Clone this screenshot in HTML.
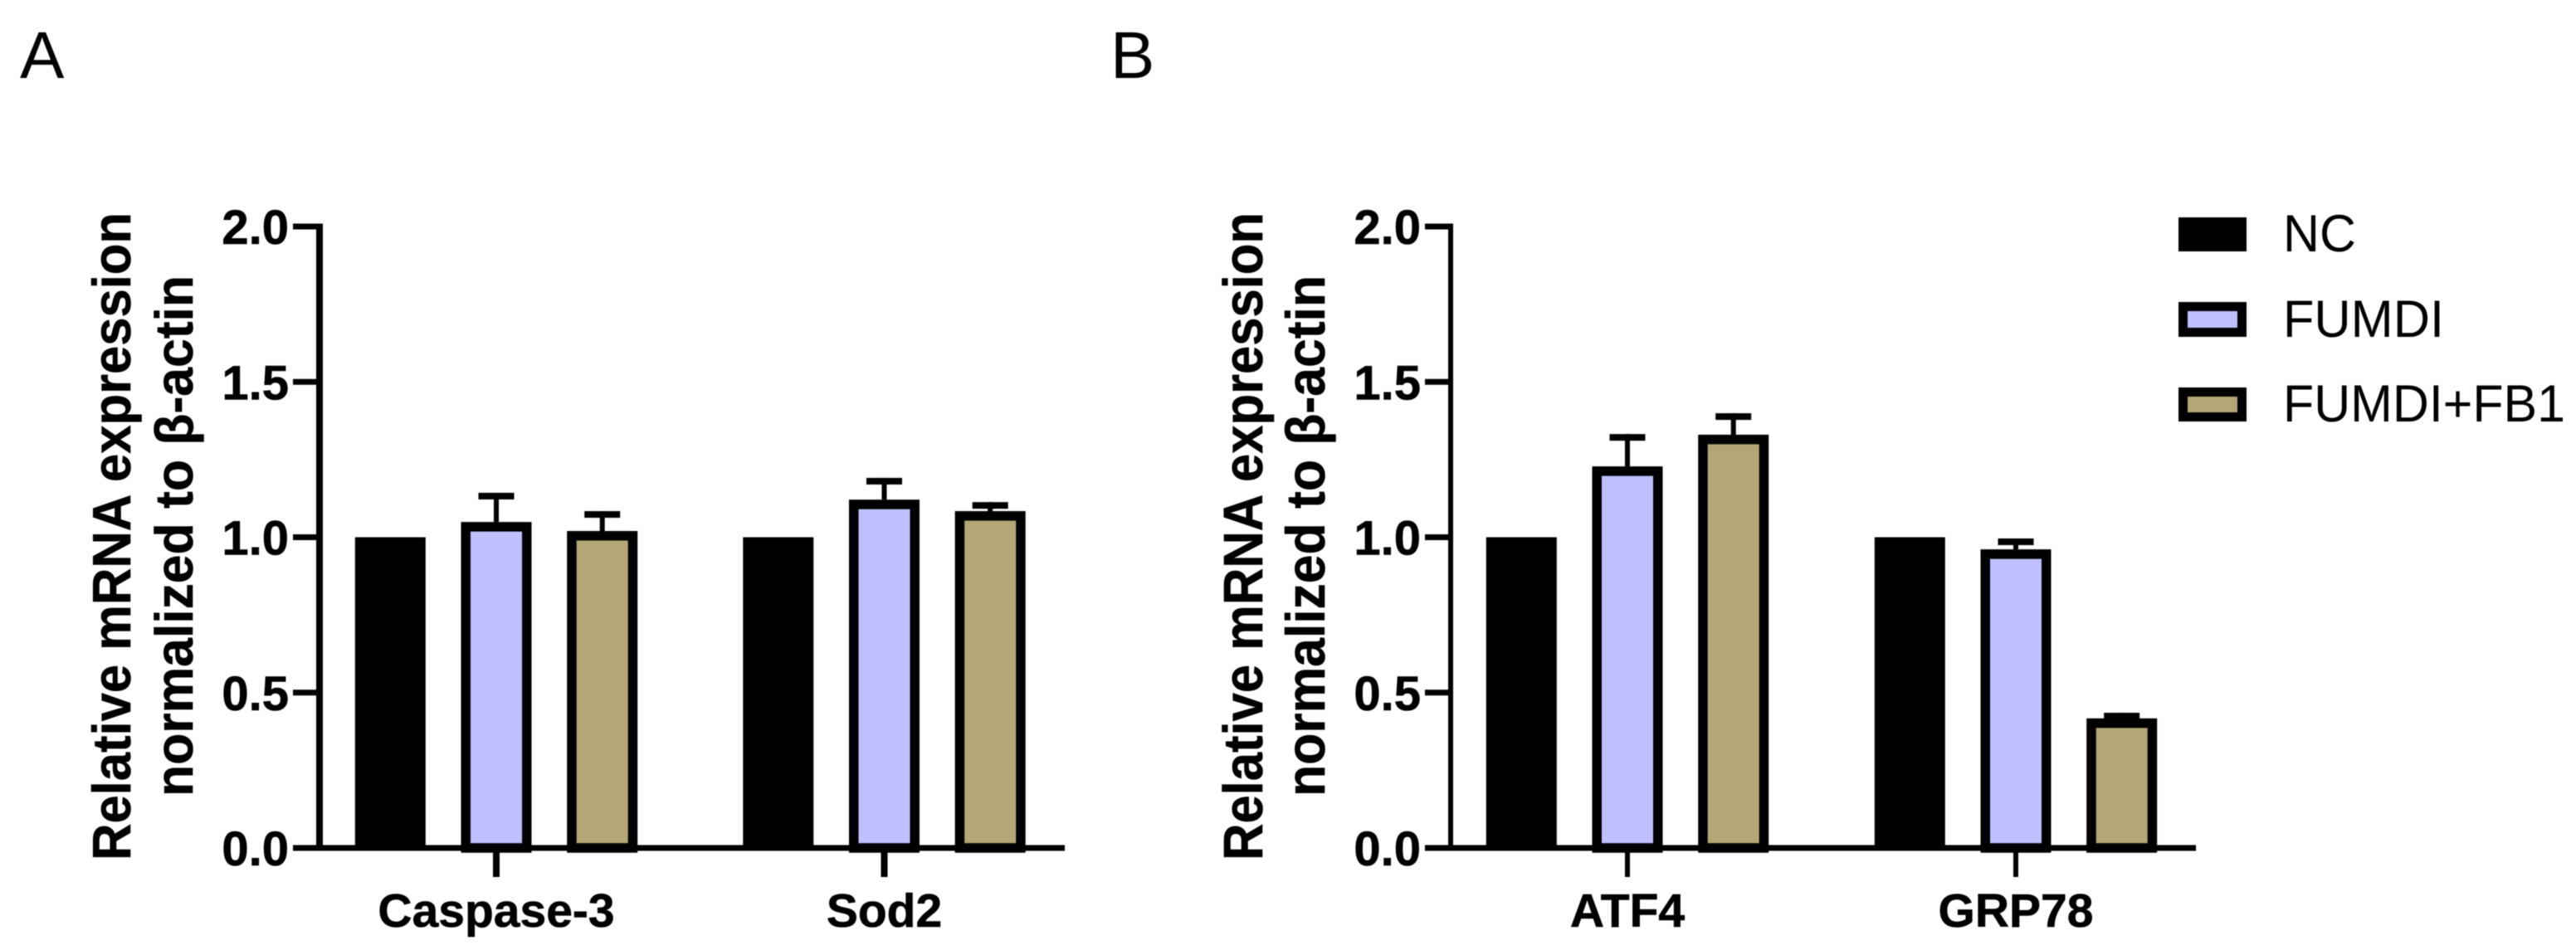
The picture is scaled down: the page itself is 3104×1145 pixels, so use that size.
<!DOCTYPE html>
<html lang="en">
<head>
<meta charset="utf-8">
<title>Relative mRNA expression bar charts</title>
<style>
  html, body { margin: 0; padding: 0; background: #fff; width: 3104px; height: 1145px; overflow: hidden; }
  svg { display: block; filter: blur(0.6px); }
  text { font-family: "Liberation Sans", sans-serif; fill: #000; }
  .bold { font-weight: 700; stroke: #000; stroke-width: 0.6px; }
</style>
</head>
<body>
<svg id="figure" xmlns="http://www.w3.org/2000/svg" width="3104" height="1145" viewBox="0 0 3104 1145">
  <rect x="0" y="0" width="3104" height="1145" fill="#ffffff"/>
  <text x="24" y="94" font-size="80">A</text>
  <text x="1338" y="94" font-size="80">B</text>

  <g>
    <text class="bold" transform="translate(157 1037) rotate(-90)" font-size="65" textLength="781" lengthAdjust="spacingAndGlyphs">Relative mRNA expression</text>
    <text class="bold" transform="translate(232 960) rotate(-90)" font-size="64" textLength="628" lengthAdjust="spacingAndGlyphs">normalized to β-actin</text>
  </g>
  <g>
    <text class="bold" transform="translate(1521 1037) rotate(-90)" font-size="67" textLength="781" lengthAdjust="spacingAndGlyphs">Relative mRNA expression</text>
    <text class="bold" transform="translate(1596 960) rotate(-90)" font-size="66" textLength="628" lengthAdjust="spacingAndGlyphs">normalized to β-actin</text>
  </g>

  <g id="panel-a"></g>
  <g id="panel-b"></g>

  <g>
    <g>
      <rect x="2625" y="262" width="82" height="41" fill="#000"/>
      <text x="2751" y="303" font-size="63" textLength="88" lengthAdjust="spacingAndGlyphs">NC</text>
    </g>
    <g>
      <rect x="2630.5" y="369.5" width="71" height="31" fill="#C0C0FF" stroke="#000" stroke-width="11"/>
      <text x="2751" y="406" font-size="63" textLength="194" lengthAdjust="spacingAndGlyphs">FUMDI</text>
    </g>
    <g>
      <rect x="2630.5" y="472.5" width="71" height="30" fill="#B3A775" stroke="#000" stroke-width="11"/>
      <text x="2751" y="508" font-size="63" textLength="340" lengthAdjust="spacingAndGlyphs">FUMDI+FB1</text>
    </g>
  </g>
</svg>

<script>
// Tick labels shared by both panels
const yTicks = [0, 0.5, 1.0, 1.5, 2.0];

// Panel A data
const categoriesA = ["Caspase-3", "Sod2"];
const ncA = [1.0, 1.0];
const fumdiA = [1.049, 1.121];
const fb1A = [1.02, 1.084];
const fumdiErrA = [0.094, 0.07];
const fb1ErrA = [0.064, 0.029];

// Panel B data
const categoriesB = ["ATF4", "GRP78"];
const ncB = [1.0, 1.0];
const fumdiB = [1.228, 0.961];
const fb1B = [1.33, 0.417];
const fumdiErrB = [0.104, 0.035];
const fb1ErrB = [0.069, 0.018];

const NS = "http://www.w3.org/2000/svg";
const Y_ZERO = 1022, Y_TOP = 273, Y_MAX = 2.0;
const BAR_W = 85, BAR_STEP = 127.7, STROKE = 11.5;

function yScale(v) { return Y_ZERO - (v / Y_MAX) * (Y_ZERO - Y_TOP); }

function make(parent, tag, attrs, text) {
  const el = document.createElementNS(NS, tag);
  for (const k in attrs) el.setAttribute(k, attrs[k]);
  if (text !== undefined) el.textContent = text;
  parent.appendChild(el);
  return el;
}

function drawPanel(root, cfg) {
  const xGroup = function (i) { return cfg.groupFirst + i * cfg.groupGap; };
  const xBar = function (i, s) { return xGroup(i) + (s - 1) * BAR_STEP; };

  // bars and error bars first so the axes sit on top
  const series = [
    { key: "nc", values: cfg.nc, errs: null, fill: "#000000" },
    { key: "fumdi", values: cfg.fumdi, errs: cfg.fumdiErr, fill: "#C0C0FF" },
    { key: "fumdi-fb1", values: cfg.fb1, errs: cfg.fb1Err, fill: "#B3A775" }
  ];
  series.forEach(function (s, sIdx) {
    s.values.forEach(function (v, i) {
      const cx = xBar(i, sIdx);
      const top = yScale(v);
      const slug = cfg.cats[i].toLowerCase();
      if (s.errs) {
        const errTop = yScale(v + s.errs[i]);
        const stem = make(root, "line", { x1: cx, x2: cx, y1: errTop, y2: top, stroke: "#000", "stroke-width": 6 });
        
        
        const cap = make(root, "rect", { x: cx - 21.5, y: errTop, width: 43, height: 8, fill: "#000" });
        
        
      }
      const isBlack = s.errs === null;
      const inset = isBlack ? 0 : STROKE / 2;
      const bar = make(root, "rect", {
        x: cx - BAR_W / 2 + inset,
        y: top + inset,
        width: BAR_W - 2 * inset,
        height: Y_ZERO - top - inset,
        fill: s.fill,
        stroke: isBlack ? "none" : "#000",
        "stroke-width": isBlack ? 0 : STROKE
      });
      
      
    });
  });

  // y axis
  const yAxis = make(root, "line", { x1: cfg.axisX, x2: cfg.axisX, y1: yScale(Y_MAX) - 3.5, y2: Y_ZERO + 3.5, stroke: "#000", "stroke-width": cfg.axisW });
  
  

  yTicks.forEach(function (t) {
    const y = yScale(t);
    const tick = make(root, "line", { x1: cfg.tickLeft, x2: cfg.axisX, y1: y, y2: y, stroke: "#000", "stroke-width": 7 });
    
    
    const label = make(root, "text", { x: cfg.tickLeft - 5, y: y + 21, "font-size": 58, "text-anchor": "end", "class": "bold" }, t.toFixed(1));
    
    
  });

  // x axis
  const xAxis = make(root, "line", { x1: cfg.tickLeft, x2: cfg.axisEnd, y1: Y_ZERO, y2: Y_ZERO, stroke: "#000", "stroke-width": 7 });
  
  

  cfg.cats.forEach(function (c, i) {
    const x = xGroup(i);
    const slug = c.toLowerCase();
    const tick = make(root, "line", { x1: x, x2: x, y1: Y_ZERO, y2: 1057, stroke: "#000", "stroke-width": cfg.axisW });
    
    
    const label = make(root, "text", { x: x, y: 1117, "font-size": 57, "text-anchor": "middle", "class": "bold" }, c);
    
    
  });
}

drawPanel(document.getElementById("panel-a"), {
  cats: categoriesA, nc: ncA, fumdi: fumdiA, fb1: fb1A, fumdiErr: fumdiErrA, fb1Err: fb1ErrA,
  axisX: 385, axisW: 8, tickLeft: 353, axisEnd: 1283, groupFirst: 598, groupGap: 467.5
});
drawPanel(document.getElementById("panel-b"), {
  cats: categoriesB, nc: ncB, fumdi: fumdiB, fb1: fb1B, fumdiErr: fumdiErrB, fb1Err: fb1ErrB,
  axisX: 1748, axisW: 6, tickLeft: 1717, axisEnd: 2646, groupFirst: 1961, groupGap: 468
});
</script>
</body>
</html>
